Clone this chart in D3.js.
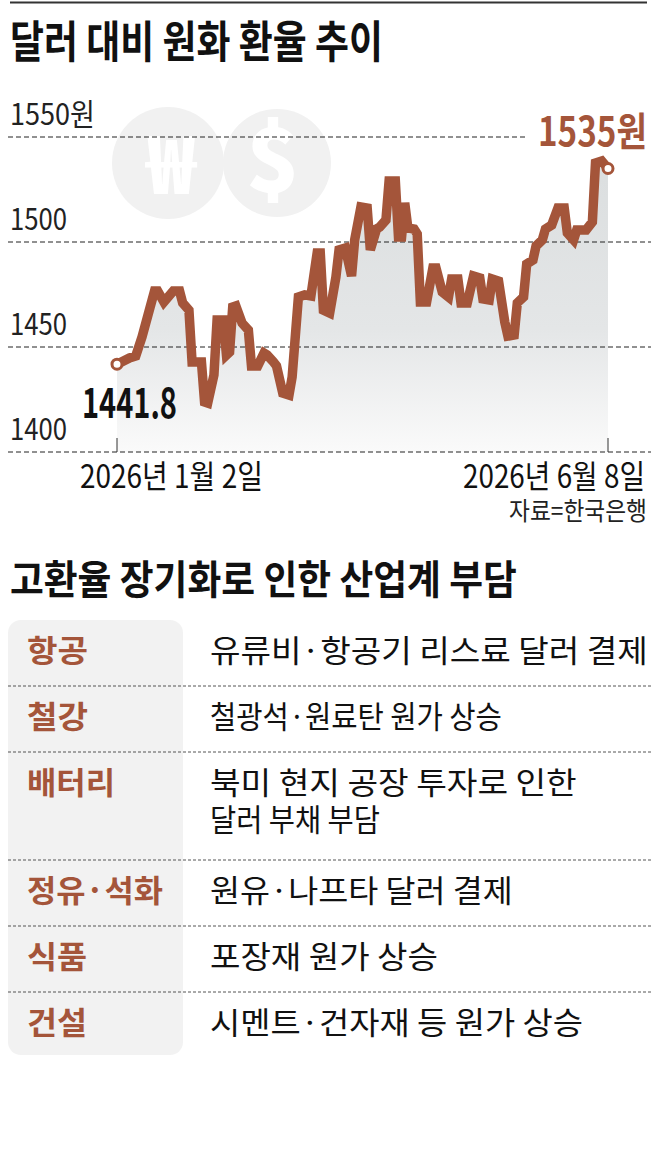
<!DOCTYPE html>
<html>
<head>
<meta charset="utf-8">
<script src="https://cdn.jsdelivr.net/npm/d3@7"></script>
<style>
  html, body { margin: 0; padding: 0; background: #fff; }
  svg { display: block; }
  text { font-family: "Noto Sans CJK KR", "Noto Sans", sans-serif; }
</style>
</head>
<body>
<svg id="chart" width="657" height="1156"></svg>
<script>
// Daily KRW/USD rate, 2026
const dates = [
  "01-02","01-06","01-08","01-10","01-14","01-15","01-17","01-20","01-22","01-23",
  "01-25","01-26","01-29","01-30","01-31","02-02","02-03","02-05","02-06","02-07",
  "02-08","02-09","02-11","02-13","02-14","02-16","02-18","02-19","02-21","02-22",
  "02-24","02-26","02-27","03-01","03-03","03-05","03-07","03-08","03-09","03-11",
  "03-13","03-14","03-16","03-18","03-19","03-21","03-23","03-24","03-26","03-27",
  "03-29","03-30","04-01","04-02","04-03","04-04","04-05","04-07","04-08","04-09",
  "04-11","04-13","04-14","04-16","04-18","04-19","04-21","04-22","04-24","04-26",
  "04-28","04-29","05-01","05-02","05-04","05-06","05-07","05-09","05-10","05-12",
  "05-13","05-15","05-16","05-18","05-19","05-21","05-23","05-25","05-26","05-28",
  "05-29","06-01","06-03","06-04","06-06","06-08"
];
const rates = [
  1441.8, 1444.8, 1445.7, 1454.8, 1476.7, 1476.7, 1471.4, 1476.7, 1476.7, 1471.0,
  1467.6, 1442.9, 1442.9, 1423.8, 1423.3, 1436.7, 1462.9, 1462.9, 1446.2, 1447.6,
  1469.0, 1469.5, 1461.4, 1458.1, 1441.0, 1441.0, 1447.1, 1446.2, 1442.9, 1441.0,
  1428.1, 1427.1, 1435.7, 1473.8, 1474.8, 1474.3, 1494.8, 1494.8, 1467.6, 1466.2,
  1483.3, 1496.2, 1497.1, 1483.8, 1501.0, 1516.7, 1516.2, 1496.2, 1506.2, 1507.1,
  1510.5, 1529.0, 1529.0, 1502.4, 1502.4, 1518.6, 1506.7, 1506.2, 1503.8, 1471.4,
  1471.4, 1487.6, 1487.6, 1476.2, 1473.8, 1482.4, 1482.4, 1471.0, 1471.0, 1483.8,
  1482.9, 1472.9, 1472.4, 1482.4, 1481.4, 1461.9, 1455.2, 1455.7, 1471.0, 1473.8,
  1489.5, 1491.4, 1498.1, 1501.0, 1506.2, 1508.1, 1516.2, 1516.2, 1504.3, 1501.0,
  1505.7, 1505.7, 1509.5, 1537.6, 1538.6, 1535.0
];
const yTicks = [1400, 1450, 1500, 1550];
const xTickLabels = ["2026년 1월 2일", "2026년 6월 8일"];

// table: industry -> burden
const industries = ["항공", "철강", "배터리", "정유·석화", "식품", "건설"];
const burdens = [
  ["유류비·항공기 리스료 달러 결제"],
  ["철광석·원료탄 원가 상승"],
  ["북미 현지 공장 투자로 인한", "달러 부채 부담"],
  ["원유·나프타 달러 결제"],
  ["포장재 원가 상승"],
  ["시멘트·건자재 등 원가 상승"]
];

const brown = "#a4553a";
const svg = d3.select("#chart");
const parse = d3.timeParse("%Y-%m-%d");
const data = dates.map((d, i) => ({ date: parse("2026-" + d), value: rates[i] }));

const x = d3.scaleTime()
  .domain([data[0].date, data[data.length - 1].date])
  .range([117, 608]);
const y = d3.scaleLinear().domain([1400, 1550]).range([452, 137]);

// squeeze text horizontally to a given width (the original uses a condensed font)
function fit(sel, w) {
  const len = sel.node().getComputedTextLength();
  const ax = +sel.attr("x");
  const sx = w / len;
  sel.attr("transform", `translate(${ax},0) scale(${sx},1) translate(${-ax},0)`);
  return sel;
}

// top rule + title
svg.append("line").attr("x1", 10).attr("x2", 647).attr("y1", 2.5).attr("y2", 2.5)
  .attr("stroke", "#333").attr("stroke-width", 2);
fit(svg.append("text").attr("x", 10).attr("y", 58)
  .attr("font-size", 44).attr("font-weight", 700).attr("fill", "#111")
  .text("달러 대비 원화 환율 추이"), 373);

// watermark coins
const coins = svg.append("g");
coins.append("circle").attr("cx", 168).attr("cy", 163).attr("r", 56).attr("fill", "#f1f1f1");
coins.append("circle").attr("cx", 277).attr("cy", 163).attr("r", 54).attr("fill", "#f1f1f1");
coins.append("text").attr("x", 171).attr("y", 194).attr("text-anchor", "middle")
  .attr("font-size", 80).attr("font-weight", 900).attr("fill", "#fff").text("₩");
coins.append("text").attr("x", 273).attr("y", 192).attr("text-anchor", "middle")
  .attr("font-size", 88).attr("font-weight", 900).attr("fill", "#fff").text("$");

// area gradient
const defs = svg.append("defs");
const grad = defs.append("linearGradient").attr("id", "areaGrad")
  .attr("gradientUnits", "userSpaceOnUse")
  .attr("x1", 0).attr("x2", 0).attr("y1", y(1530)).attr("y2", y(1400));
grad.append("stop").attr("offset", 0).attr("stop-color", "#dcdfe0");
grad.append("stop").attr("offset", 0.55).attr("stop-color", "#e4e6e7");
grad.append("stop").attr("offset", 1).attr("stop-color", "#fafafa");

svg.append("path").datum(data)
  .attr("fill", "url(#areaGrad)")
  .attr("d", d3.area().x(d => x(d.date)).y0(y(1400)).y1(d => y(d.value)));

// gridlines
svg.append("g").selectAll("line").data(yTicks).join("line")
  .attr("x1", 8)
  .attr("x2", d => d === 1550 ? 528 : 651)
  .attr("y1", d => y(d)).attr("y2", d => y(d))
  .attr("stroke", "#222").attr("stroke-width", 1).attr("stroke-dasharray", "5,3");

svg.append("g").selectAll("text").data(yTicks).join("text")
  .attr("x", 10).attr("y", d => y(d) - 12)
  .attr("font-size", 30).attr("fill", "#222")
  .text(d => d === 1550 ? d + "원" : d)
  .each(function (d) { fit(d3.select(this), d === 1550 ? 85 : 57); });

// x ticks
const ends = [data[0], data[data.length - 1]];
svg.append("g").selectAll("line").data(ends).join("line")
  .attr("x1", d => x(d.date)).attr("x2", d => x(d.date))
  .attr("y1", y(1400) - 14).attr("y2", y(1400))
  .attr("stroke", "#333").attr("stroke-width", 1);

fit(svg.append("text").attr("x", 80).attr("y", 488)
  .attr("font-size", 32).attr("fill", "#111").text(xTickLabels[0]), 183);
fit(svg.append("text").attr("x", 645).attr("y", 488).attr("text-anchor", "end")
  .attr("font-size", 32).attr("fill", "#111").text(xTickLabels[1]), 182);
fit(svg.append("text").attr("x", 647).attr("y", 520).attr("text-anchor", "end")
  .attr("font-size", 25).attr("fill", "#222").text("자료=한국은행"), 138);

// line
svg.append("path").datum(data)
  .attr("fill", "none").attr("stroke", brown).attr("stroke-width", 9.5)
  .attr("stroke-linejoin", "miter")
  .attr("d", d3.line().x(d => x(d.date)).y(d => y(d.value)));

svg.append("g").selectAll("circle").data(ends).join("circle")
  .attr("cx", d => x(d.date)).attr("cy", d => y(d.value)).attr("r", 5)
  .attr("fill", "#fff").attr("stroke", brown).attr("stroke-width", 3);

fit(svg.append("text").attr("x", 82).attr("y", 418)
  .attr("font-size", 42).attr("font-weight", 700).attr("fill", "#111")
  .text(d3.format(".1f")(data[0].value)), 95);
fit(svg.append("text").attr("x", 647).attr("y", 146).attr("text-anchor", "end")
  .attr("font-size", 40).attr("font-weight", 700).attr("fill", brown)
  .text(d3.format("d")(data[data.length - 1].value) + "원"), 109);

// second section
fit(svg.append("text").attr("x", 10).attr("y", 594)
  .attr("font-size", 40).attr("font-weight", 700).attr("fill", "#111")
  .text("고환율 장기화로 인한 산업계 부담"), 507);

const rowTop = 620;
const rowH = burdens.map(b => b.length > 1 ? 108 : 66);
const rowY = [];
rowH.reduce((acc, h) => { rowY.push(acc); return acc + h; }, rowTop);
const tableBottom = rowY[rowY.length - 1] + rowH[rowH.length - 1] - 3;

svg.append("rect").attr("x", 8).attr("y", rowTop).attr("width", 175)
  .attr("height", tableBottom - rowTop).attr("rx", 13).attr("fill", "#f2f2f2");

svg.append("g").selectAll("line").data(rowY.slice(1)).join("line")
  .attr("x1", 8).attr("x2", 651).attr("y1", d => d).attr("y2", d => d)
  .attr("stroke", "#555").attr("stroke-width", 1).attr("stroke-dasharray", "3,2");

const labelW = [61, 61, 88, 136, 60, 60];
const burdenW = [
  [438], [292], [367, 170], [303], [228], [373]
];

const rows = svg.append("g").selectAll("g").data(industries).join("g")
  .attr("transform", (d, i) => `translate(0,${rowY[i]})`);

rows.append("text").attr("x", 27).attr("y", 42)
  .attr("font-size", 31).attr("font-weight", 700).attr("fill", brown)
  .text(d => d)
  .each(function (d, i) { fit(d3.select(this), labelW[i]); });

rows.each(function (d, i) {
  d3.select(this).selectAll("text.b").data(burdens[i]).join("text")
    .attr("class", "b")
    .attr("x", 210).attr("y", (t, j) => 42 + j * 37)
    .attr("font-size", 31).attr("fill", "#111")
    .text(t => t)
    .each(function (t, j) { fit(d3.select(this), burdenW[i][j]); });
});
</script>
</body>
</html>
